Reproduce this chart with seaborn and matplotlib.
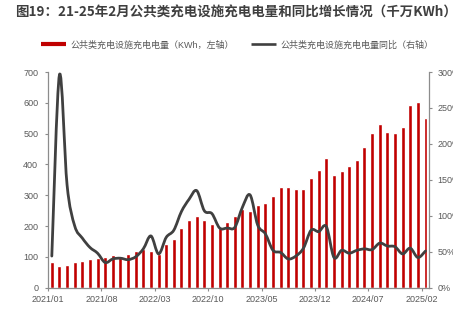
import numpy as np
import matplotlib
matplotlib.use("Agg")
import matplotlib.pyplot as plt
from matplotlib.path import Path
from matplotlib.patches import PathPatch
from matplotlib.lines import Line2D
import seaborn as sns

# Monthly categories 2021/01 .. 2025/02
months = [f"{y}/{m:02d}" for y in range(2021, 2026) for m in range(1, 13)][:50]
tick_labels = ["2021/01", "2021/08", "2022/03", "2022/10",
               "2023/05", "2023/12", "2024/07", "2025/02"]

# Public charging volume (left axis) and year-on-year growth in % (right axis)
charge = [83, 69, 74, 84, 86, 93, 97, 100, 106, 100,
          109, 118, 125, 119, 109, 143, 157, 194, 219, 233,
          220, 207, 195, 214, 232, 254, 250, 268, 275, 298,
          326, 326, 319, 321, 355, 382, 422, 365, 380, 395,
          415, 457, 503, 531, 505, 502, 521, 593, 602, 552]
yoy = [44, 296, 143, 86, 69, 56, 48, 35, 40, 41,
       39, 43, 54, 72, 47, 70, 80, 106, 123, 135,
       107, 103, 83, 83, 84, 112, 129, 87, 75, 52,
       49, 40, 44, 55, 80, 78, 85, 42, 52, 48,
       52, 54, 53, 62, 58, 57, 47, 55, 42, 51]

title = "图19：21-25年2月公共类充电设施充电电量和同比增长情况（千万KWh）"
bar_label = "公共类充电设施充电电量（KWh，左轴）"
line_label = "公共类充电设施充电电量同比（右轴）"

RED = "#C00000"
LINE = "#404040"
SPINE = "#8C8C8C"
TEXT = "#595959"

sns.set_style("white")
plt.rcParams["font.family"] = ["Liberation Sans", "Noto Sans CJK SC", "DejaVu Sans"]

fig = plt.figure(figsize=(4.53, 3.24), dpi=100)
ax = fig.add_axes([48 / 453, 1 - 287.7 / 324, (429.3 - 48) / 453, (287.7 - 72) / 324])

sns.barplot(x=months, y=charge, color=RED, width=0.52, saturation=1, ax=ax)
ax.set_xlim(-0.5, len(months) - 0.5)
ax.set_ylim(0, 700)
ax.set_yticks(range(0, 701, 100))
ax.set_xlabel("")
ax.set_ylabel("")

tick_pos = [months.index(t) - 0.5 for t in tick_labels]
ax.set_xticks(tick_pos)
ax.set_xticklabels(tick_labels)

# Right axis: smooth YoY curve built from cubic Bezier segments
ax2 = ax.twinx()
ax2.set_ylim(0, 300)
ax2.set_yticks(range(0, 301, 50))
ax2.set_yticklabels([f"{v}%" for v in range(0, 301, 50)])

pts = np.column_stack([np.arange(len(yoy)), np.array(yoy, dtype=float)])
n = len(pts)
verts = [pts[0]]
codes = [Path.MOVETO]
for i in range(n - 1):
    p_prev = pts[max(i - 1, 0)]
    p0 = pts[i]
    p1 = pts[i + 1]
    p_next = pts[min(i + 2, n - 1)]
    c1 = p0 + (p1 - p_prev) / 6.0
    c2 = p1 - (p_next - p0) / 6.0
    verts += [c1, c2, p1]
    codes += [Path.CURVE4] * 3
curve = PathPatch(Path(verts, codes), fill=False, edgecolor=LINE, lw=2.0,
                  capstyle="round", joinstyle="round")
ax2.add_patch(curve)

# Spines and ticks
for a in (ax, ax2):
    a.spines["top"].set_visible(False)
    for s in a.spines.values():
        s.set_color(SPINE)
        s.set_linewidth(0.9)
ax.spines["right"].set_visible(False)
ax2.spines["left"].set_visible(False)
ax2.spines["bottom"].set_visible(False)

ax.tick_params(axis="y", left=True, length=2.5, width=0.8, color=SPINE,
               labelcolor=TEXT, labelsize=6.5, pad=4.5)
ax.tick_params(axis="x", bottom=True, length=2.5, width=0.8, color=SPINE,
               labelcolor=TEXT, labelsize=6.5, pad=2.5)
ax2.tick_params(axis="y", right=True, length=2.5, width=0.8, color=SPINE,
                labelcolor=TEXT, labelsize=6.5, pad=3.5)
ax.grid(False)
ax2.grid(False)

# Title and legend
fig.text(15 / 453, 1 - 13 / 324, title, fontsize=9.7, fontweight="bold",
         color="#3F3F3F", ha="left", va="center",
         family=["Noto Sans CJK SC", "DejaVu Sans"])

handles = [Line2D([], [], color=RED, lw=3.0, solid_capstyle="butt"),
           Line2D([], [], color=LINE, lw=1.9, solid_capstyle="butt")]
fig.legend(handles, [bar_label, line_label], loc="center",
           bbox_to_anchor=(0.524, 1 - 45 / 324), ncol=2, frameon=False,
           fontsize=6.5, labelcolor=TEXT, handlelength=2.8,
           handletextpad=0.5, columnspacing=1.8)

fig.savefig("out.png", dpi=100)
